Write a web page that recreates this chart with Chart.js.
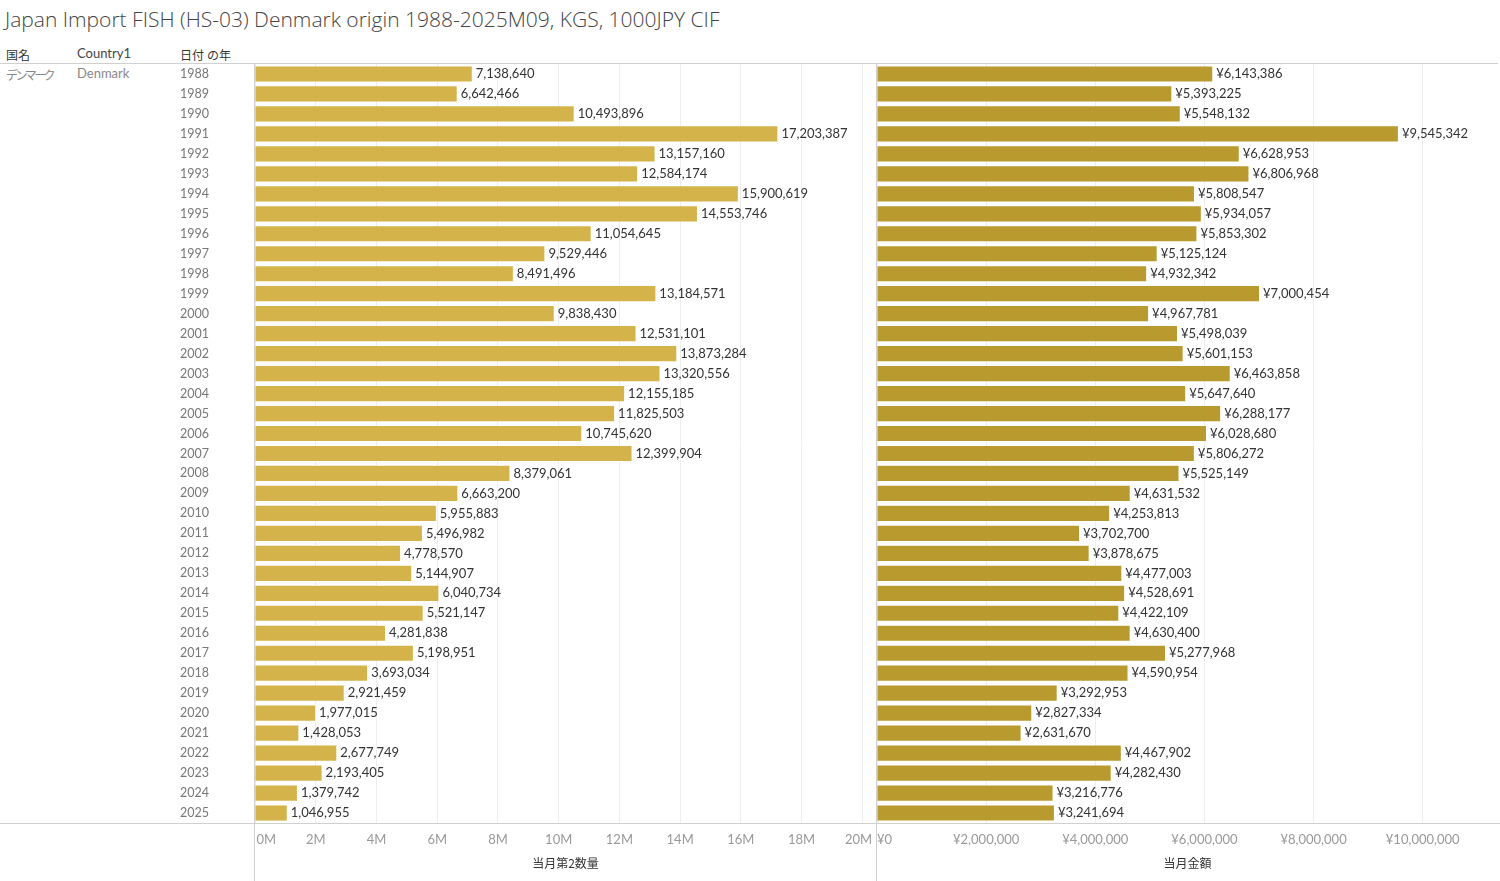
<!DOCTYPE html>
<html lang="ja">
<head>
  <meta charset="UTF-8">
  <title>Japan Import FISH (HS-03) Denmark origin</title>
  <style>
    body { margin: 0; background: #fff; font-family: "Lato", "Noto Sans CJK JP", sans-serif; }
    .wrap { position: relative; width: 1500px; height: 881px; overflow: hidden; }
    .wrap canvas { position: absolute; left: 0; top: 0; }
    .title { position: absolute; left: 5px; top: 5px; font-size: 21px; color: #444; font-weight: 300; white-space: nowrap; font-family: "Open Sans", "Noto Sans CJK JP", sans-serif; }
    .hd { position: absolute; top: 46px; font-size: 12px; color: #333; font-family: "Lato", "Noto Sans CJK JP", sans-serif; }
    .cell { position: absolute; top: 65px; font-size: 13px; color: #888; font-family: "Lato", "Noto Sans CJK JP", sans-serif; }
    .kana { font-size: 12px; letter-spacing: -2.6px; }
    .lat { font-size: 13px; top: 45px; color: #444; }
    .ln { position: absolute; background: #d0d0d0; }
  </style>
</head>
<body>
  <div class="wrap">
    <div class="title">Japan Import FISH (HS-03) Denmark origin 1988-2025M09, KGS, 1000JPY CIF</div>
    <div class="hd" style="left:6px">国名</div>
    <div class="hd lat" style="left:77px">Country1</div>
    <div class="hd" style="left:180px">日付 の年</div>
    <div class="cell kana" style="left:6px; top:66px">デンマーク</div>
    <div class="cell" style="left:77px">Denmark</div>
    <canvas id="qtyChart" width="1500" height="881"></canvas>
    <canvas id="valChart" width="1500" height="881"></canvas>
    <div class="ln" style="left:0; top:63px; width:1498px; height:1px"></div>
    <div class="ln" style="left:0; top:823px; width:1500px; height:1px"></div>
    <div class="ln" style="left:254px; top:63px; width:1px; height:818px"></div>
    <div class="ln" style="left:876px; top:63px; width:1px; height:818px"></div>
  </div>

  <script src="https://cdn.jsdelivr.net/npm/chart.js"></script>
  <script>
    const years = ['1988','1989','1990','1991','1992','1993','1994','1995','1996','1997',
      '1998','1999','2000','2001','2002','2003','2004','2005','2006','2007','2008','2009',
      '2010','2011','2012','2013','2014','2015','2016','2017','2018','2019','2020','2021',
      '2022','2023','2024','2025'];

    // 当月第2数量 (KGS)
    const quantity = [7138640, 6642466, 10493896, 17203387, 13157160, 12584174, 15900619,
      14553746, 11054645, 9529446, 8491496, 13184571, 9838430, 12531101, 13873284, 13320556,
      12155185, 11825503, 10745620, 12399904, 8379061, 6663200, 5955883, 5496982, 4778570,
      5144907, 6040734, 5521147, 4281838, 5198951, 3693034, 2921459, 1977015, 1428053,
      2677749, 2193405, 1379742, 1046955];

    // 当月金額 (1000JPY)
    const amount = [6143386, 5393225, 5548132, 9545342, 6628953, 6806968, 5808547, 5934057,
      5853302, 5125124, 4932342, 7000454, 4967781, 5498039, 5601153, 6463858, 5647640, 6288177,
      6028680, 5806272, 5525149, 4631532, 4253813, 3702700, 3878675, 4477003, 4528691, 4422109,
      4630400, 5277968, 4590954, 3292953, 2827334, 2631670, 4467902, 4282430, 3216776, 3241694];

    const qtyTicks = [0, 2e6, 4e6, 6e6, 8e6, 10e6, 12e6, 14e6, 16e6, 18e6, 20e6];
    const amtTicks = [0, 2e6, 4e6, 6e6, 8e6, 10e6];

    const tickFont = { family: 'Lato, "Noto Sans CJK JP", sans-serif', size: 13 };
    const yearFont = { family: 'Lato, "Noto Sans CJK JP", sans-serif', size: 12.5 };
    const titleFont = { family: '"Noto Sans CJK JP", Lato, sans-serif', size: 12 };
    const FS = '\u2007'; // figure space, nudges end labels inside the plot like the original

    // value labels at the end of each bar
    const barLabels = {
      id: 'barLabels',
      afterDatasetsDraw(chart, args, opts) {
        const ctx = chart.ctx;
        const meta = chart.getDatasetMeta(0);
        ctx.save();
        ctx.font = '13px Lato, sans-serif';
        ctx.fillStyle = '#333';
        ctx.textAlign = 'left';
        ctx.textBaseline = 'middle';
        meta.data.forEach((bar, i) => {
          const v = chart.data.datasets[0].data[i];
          ctx.fillText(opts.prefix + v.toLocaleString('en-US'), bar.x + 4, bar.y);
        });
        ctx.restore();
      }
    };

    function fixHeight(h) { return scale => { scale.height = h; }; }

    new Chart(document.getElementById('qtyChart'), {
      type: 'bar',
      data: {
        labels: years,
        datasets: [{ data: quantity, backgroundColor: '#d4b44a', barPercentage: 0.76, categoryPercentage: 1 }]
      },
      options: {
        indexAxis: 'y',
        responsive: false,
        animation: false,
        layout: { padding: { left: 180, right: 624, top: 64, bottom: 0 } },
        plugins: { legend: { display: false }, tooltip: { enabled: false }, barLabels: { prefix: '' } },
        scales: {
          x: {
            min: 0, max: 20.45e6,
            afterFit: fixHeight(58),
            afterBuildTicks: s => { s.ticks = qtyTicks.map(v => ({ value: v })); },
            grid: { color: '#eeeeee', drawTicks: false },
            border: { display: false },
            ticks: { color: '#999', font: tickFont, padding: 9, maxRotation: 0,
              callback: v => {
                const t = (v / 1e6) + 'M';
                if (v === 0) return FS + FS + FS + t;
                if (v === 20e6) return t + FS;
                return t;
              } },
            title: { display: true, text: '当月第2数量', color: '#333', font: titleFont, padding: { top: 0, bottom: 10 } }
          },
          y: {
            afterFit: s => { s.width = 75; },
            grid: { display: false },
            border: { display: false },
            ticks: { color: '#777', font: yearFont, crossAlign: 'far', padding: 0, autoSkip: false }
          }
        }
      },
      plugins: [barLabels]
    });

    new Chart(document.getElementById('valChart'), {
      type: 'bar',
      data: {
        labels: years,
        datasets: [{ data: amount, backgroundColor: '#b99a2e', barPercentage: 0.76, categoryPercentage: 1 }]
      },
      options: {
        indexAxis: 'y',
        responsive: false,
        animation: false,
        layout: { padding: { left: 877, right: 2, top: 64, bottom: 0 } },
        plugins: { legend: { display: false }, tooltip: { enabled: false }, barLabels: { prefix: '¥' } },
        scales: {
          x: {
            min: 0, max: 11.38e6,
            afterFit: fixHeight(58),
            afterBuildTicks: s => { s.ticks = amtTicks.map(v => ({ value: v })); },
            grid: { color: '#eeeeee', drawTicks: false },
            border: { display: false },
            ticks: { color: '#999', font: tickFont, padding: 9, maxRotation: 0,
              callback: v => {
                const t = '¥' + v.toLocaleString('en-US');
                return v === 0 ? FS + FS + t : t;
              } },
            title: { display: true, text: '当月金額', color: '#333', font: titleFont, padding: { top: 0, bottom: 10 } }
          },
          y: {
            display: false
          }
        }
      },
      plugins: [barLabels]
    });
  </script>
</body>
</html>
